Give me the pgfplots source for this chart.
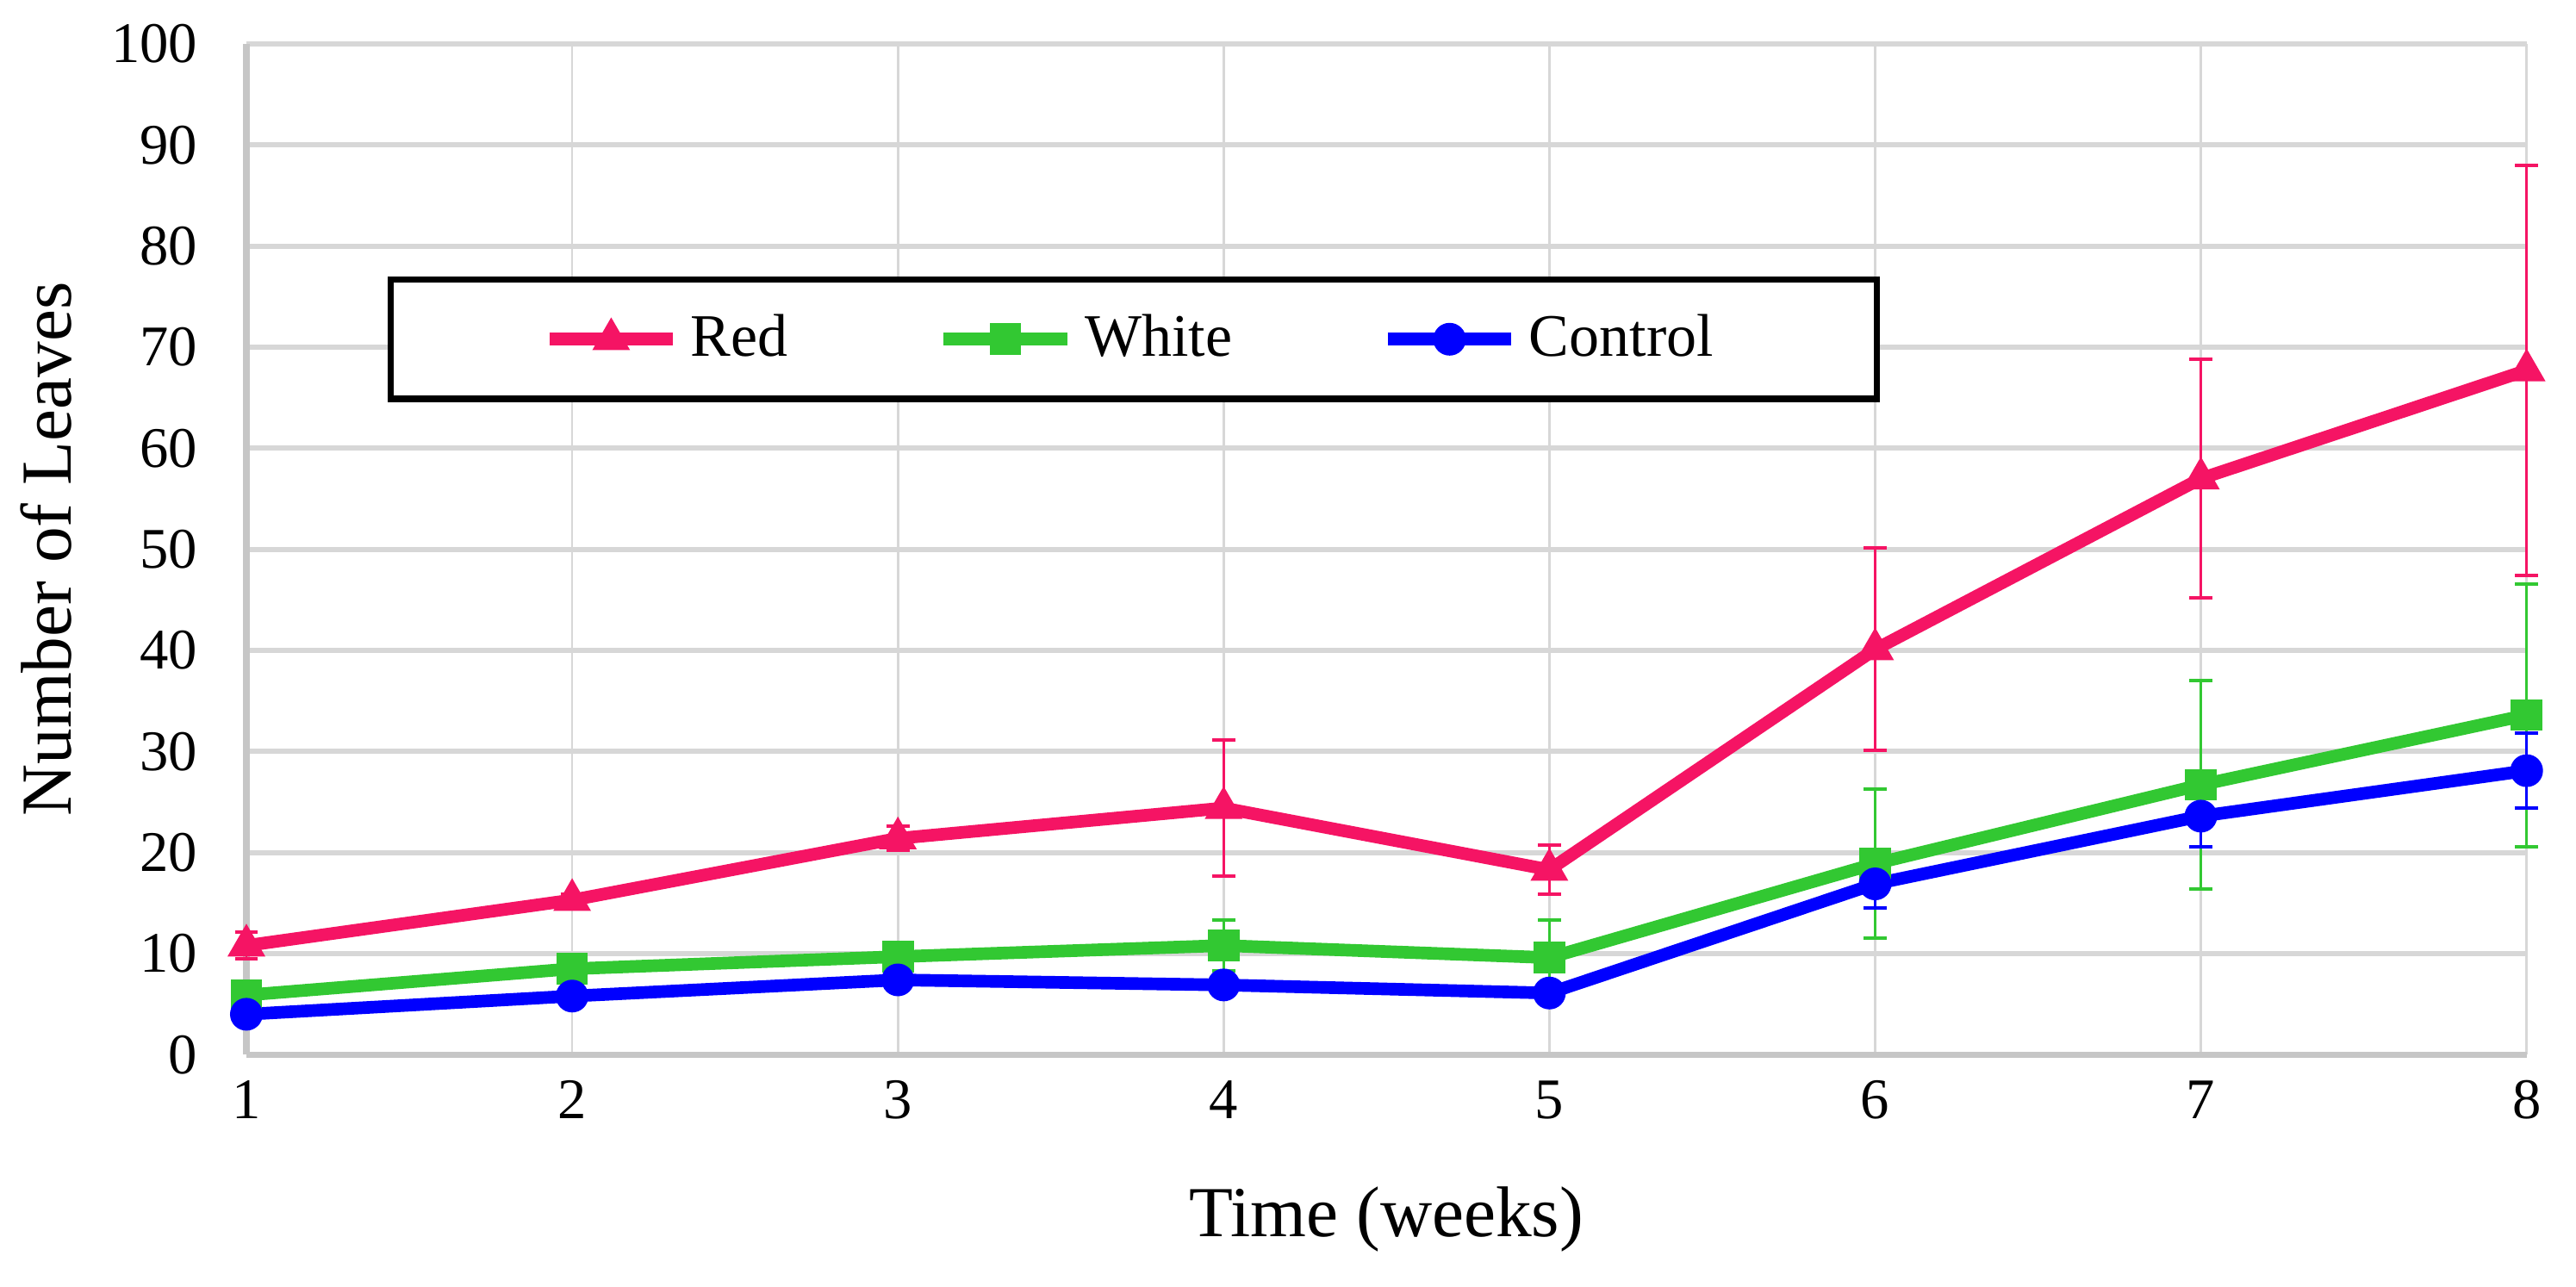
\documentclass[border=0pt]{standalone}
\usepackage{pgfplots}
\pgfplotsset{compat=1.18}
\usepackage{pgfplotstable}
\usepackage{fontspec}
\setmainfont{Liberation Serif}
\definecolor{cred}{RGB}{245,20,100}
\definecolor{cgreen}{RGB}{50,200,50}
\definecolor{cblue}{RGB}{0,0,255}
\definecolor{gridc}{RGB}{215,215,215}
\pgfplotstableread{
x y e
1 10.8 1.3
2 15.3 0.6
3 21.4 1.2
4 24.4 6.7
5 18.3 2.4
6 40.1 10.0
7 57.0 11.8
8 67.7 20.3
}\redtab
\pgfplotstableread{
x y e
1 5.9 0.8
2 8.5 0.8
3 9.7 0.8
4 10.8 2.5
5 9.6 3.7
6 18.9 7.4
7 26.7 10.3
8 33.6 13.0
}\whitetab
\pgfplotstableread{
x y e
1 4.0 0.5
2 5.8 0.5
3 7.4 0.5
4 6.9 0.5
5 6.1 0.5
6 16.9 2.4
7 23.6 3.0
8 28.1 3.7
}\controltab
\begin{document}
\begin{tikzpicture}
\begin{axis}[
  at={(0,0)}, anchor=south west,
  scale only axis,
  width=397pt, height=176pt,
  xmin=1, xmax=8, ymin=0, ymax=100,
  xtick={1,...,8}, ytick={0,10,...,100},
  major tick length=0pt,
  grid=major,
  x grid style={gridc, line width=0.4pt},
  y grid style={gridc, line width=0.9pt},
  axis x line*=bottom, axis y line*=left,
  axis line style={gray!45, line width=1.1pt},
  separate axis lines,
  every outer x axis line/.append style={-},
  every outer y axis line/.append style={-},
  /pgf/number format/assume math mode=true,
  tick label style={font=\fontsize{10}{12}\selectfont, black},
  xticklabel style={yshift=-1pt},
  yticklabel style={xshift=-5pt},
  xlabel={Time (weeks)}, ylabel={Number of Leaves},
  label style={font=\fontsize{12.5}{14}\selectfont},
  xlabel style={at={(axis description cs:0.5,-0.163)}, anchor=center},
  ylabel style={at={(axis description cs:-0.0879,0.5)}, anchor=center},
  clip=false,
  legend columns=3,
  legend style={at={(axis description cs:0.062,0.770)}, anchor=north west,
    draw=black, line width=1.1pt, inner xsep=26.5pt, inner ysep=4pt,
    font=\fontsize{10.5}{12}\selectfont,
    /tikz/every even column/.append style={column sep=24pt}},
  legend image code/.code={\draw[mark repeat=2,mark phase=2,#1] plot coordinates {(0pt,0pt) (10.75pt,0pt) (21.5pt,0pt)};},
]
\addplot[cred, line width=2.2pt, mark=triangle*, mark size=3.3pt,
  mark options={line width=0.5pt},
  error bars/.cd, y dir=both, y explicit,
  error bar style={line width=0.4pt, cred},
  error mark options={rotate=90, mark size=2pt, line width=0.6pt, cred}]
  table[x=x, y=y, y error=e] {\redtab};
\addlegendentry{Red}
\addplot[cgreen, line width=2.2pt, mark=square*, mark size=2.5pt,
  mark options={line width=0.5pt},
  error bars/.cd, y dir=both, y explicit,
  error bar style={line width=0.4pt, cgreen},
  error mark options={rotate=90, mark size=2pt, line width=0.6pt, cgreen}]
  table[x=x, y=y, y error=e] {\whitetab};
\addlegendentry{White}
\addplot[cblue, line width=2.2pt, mark=*, mark size=2.6pt,
  mark options={line width=0.5pt},
  error bars/.cd, y dir=both, y explicit,
  error bar style={line width=0.4pt, cblue},
  error mark options={rotate=90, mark size=2pt, line width=0.6pt, cblue}]
  table[x=x, y=y, y error=e] {\controltab};
\addlegendentry{Control}
\end{axis}
\pgfresetboundingbox
\useasboundingbox (-42.9pt,-40.4pt) rectangle (405.6pt,183.65pt);
\end{tikzpicture}
\end{document}
